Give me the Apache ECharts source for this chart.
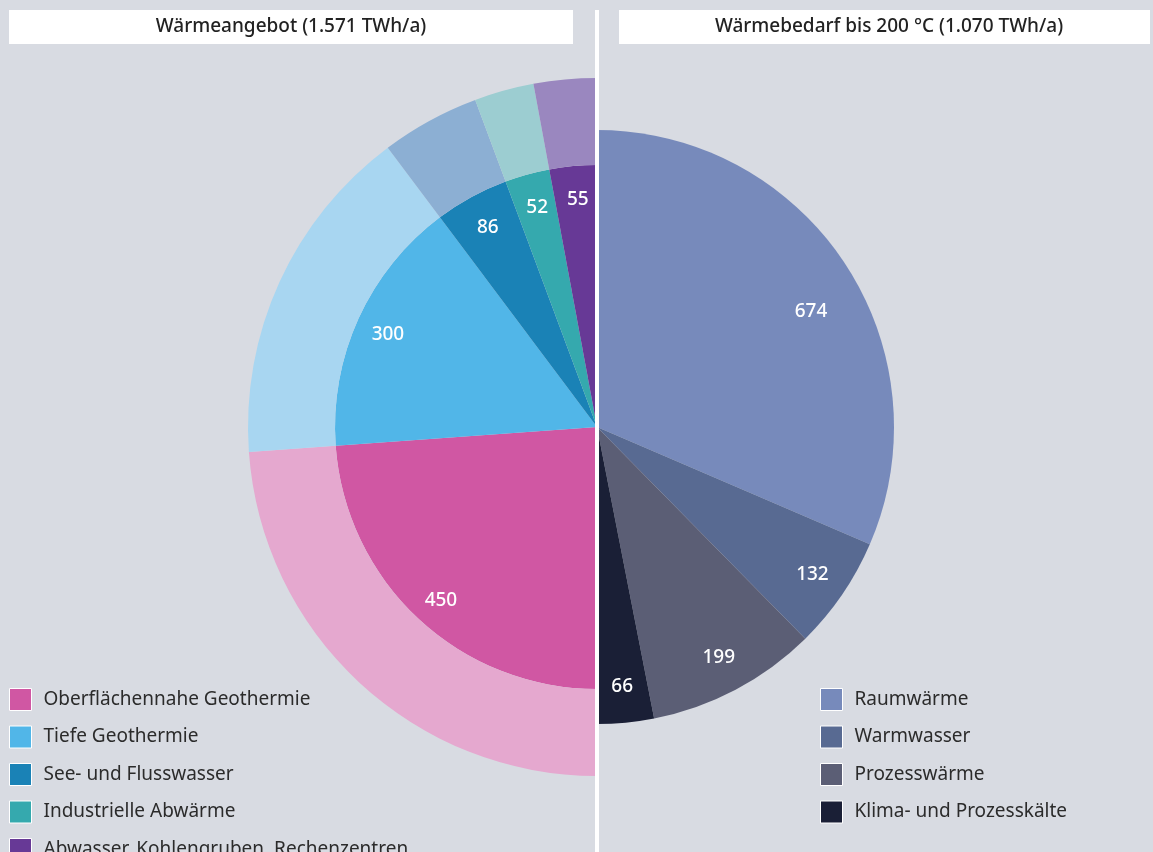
<!DOCTYPE html>
<html>
<head>
<meta charset="utf-8">
<title>Wärmeangebot und Wärmebedarf</title>
<script src="https://cdn.jsdelivr.net/npm/echarts@6/dist/echarts.min.js"></script>
<style>
  html, body { margin: 0; padding: 0; background: #d8dbe2; }
  #chart { width: 1153px; height: 852px; }
</style>
</head>
<body>
<div id="chart"></div>
<script>
// Wärmeangebot (TWh/a)
const supplyNames = ['Oberflächennahe Geothermie', 'Tiefe Geothermie', 'See- und Flusswasser', 'Industrielle Abwärme', 'Abwasser, Kohlengruben, Rechenzentren'];
const supplyValues = [450, 300, 86, 52, 55];
const supplyColors = ['#d057a3', '#51b6e8', '#1a82b6', '#35a9ae', '#673996'];
const supplyLightColors = ['#e5a8cf', '#a8d6f1', '#8cafd3', '#9ccdd1', '#9a87bf'];

// Wärmebedarf bis 200 °C (TWh/a)
const demandNames = ['Raumwärme', 'Warmwasser', 'Prozesswärme', 'Klima- und Prozesskälte'];
const demandValues = [674, 132, 199, 66];
const demandColors = ['#778abb', '#586a92', '#5b5e75', '#1a1f36'];

const titleLeft = 'Wärmeangebot (1.571 TWh/a)';
const titleRight = 'Wärmebedarf bis 200 °C (1.070 TWh/a)';

const FONT = '"Noto Sans", sans-serif';
const center = [597, 427];

const chart = echarts.init(document.getElementById('chart'));

const supplyData = (colors) => supplyNames.map((n, i) => ({
  name: n, value: supplyValues[i], itemStyle: { color: colors[i] }
}));
const demandData = (colors) => demandNames.map((n, i) => ({
  name: n, value: demandValues[i], itemStyle: { color: colors[i] }
}));

const baseLabel = {
  show: true,
  position: 'inside',
  color: '#ffffff',
  fontSize: 19,
  fontWeight: 500,
  fontFamily: FONT,
  formatter: '{c}'
};

const legendCommon = {
  orient: 'vertical',
  icon: 'rect',
  itemWidth: 22,
  itemHeight: 22,
  itemGap: 14.5,
  padding: 0,
  height: 200,
  selectedMode: false,
  itemStyle: { borderColor: '#ffffff', borderWidth: 1 },
  textStyle: {
    color: '#2b2b2b',
    fontSize: 19,
    fontFamily: FONT,
    padding: [0, 0, 0, 7]
  }
};

const option = {
  backgroundColor: '#d8dbe2',
  animation: false,
  legend: [
    Object.assign({}, legendCommon, { data: supplyNames, left: 9, top: 688 }),
    Object.assign({}, legendCommon, { data: demandNames, left: 820, top: 688 })
  ],
  series: [
    {
      // inner supply pie
      type: 'pie',
      silent: true,
      center: center,
      radius: [0, 262],
      startAngle: 270,
      endAngle: 90,
      clockwise: true,
      itemStyle: { borderWidth: 0 },
      label: { show: false },
      labelLine: { show: false },
      data: supplyData(supplyColors)
    },
    {
      // outer lighter ring
      type: 'pie',
      silent: true,
      center: center,
      radius: [262, 349],
      startAngle: 270,
      endAngle: 90,
      clockwise: true,
      itemStyle: { borderWidth: 0 },
      label: { show: false },
      labelLine: { show: false },
      data: supplyData(supplyLightColors)
    },
    {
      // labels for supply, placed near the rim of the inner pie
      type: 'pie',
      silent: true,
      center: center,
      radius: [196, 262],
      startAngle: 270,
      endAngle: 90,
      clockwise: true,
      itemStyle: { borderWidth: 0 },
      label: Object.assign({}, baseLabel, { offset: [2, 4] }),
      labelLine: { show: false },
      data: supplyData(supplyNames.map(() => 'rgba(0,0,0,0)'))
    },
    {
      // demand half pie
      type: 'pie',
      silent: true,
      center: center,
      radius: [0, 297],
      startAngle: 90,
      endAngle: -90,
      clockwise: true,
      itemStyle: { borderWidth: 0 },
      label: { show: false },
      labelLine: { show: false },
      data: demandData(demandColors)
    },
    {
      // demand labels
      type: 'pie',
      silent: true,
      center: center,
      radius: [219, 297],
      startAngle: 90,
      endAngle: -90,
      clockwise: true,
      itemStyle: { borderWidth: 0 },
      label: baseLabel,
      labelLine: { show: false },
      data: demandData(demandNames.map(() => 'rgba(0,0,0,0)')).map((d, i) =>
        i === 0 ? Object.assign(d, { label: { offset: [-4, 28] } }) : d)
    }
  ],
  graphic: [
    { type: 'rect', z: 100, shape: { x: 9, y: 10, width: 564, height: 34 }, style: { fill: '#ffffff' } },
    { type: 'rect', z: 100, shape: { x: 619, y: 10, width: 531, height: 34 }, style: { fill: '#ffffff' } },
    {
      type: 'text', z: 101, x: 291, y: 27,
      style: { text: titleLeft, fill: '#222222', font: '500 19px ' + FONT, align: 'center', verticalAlign: 'middle' }
    },
    {
      type: 'text', z: 101, x: 889, y: 27,
      style: { text: titleRight, fill: '#222222', font: '500 19px ' + FONT, align: 'center', verticalAlign: 'middle' }
    },
    { type: 'rect', z: 100, shape: { x: 595, y: 10, width: 4, height: 842 }, style: { fill: '#ffffff' } }
  ]
};

chart.setOption(option);
window.addEventListener('resize', () => chart.resize());
</script>
</body>
</html>
